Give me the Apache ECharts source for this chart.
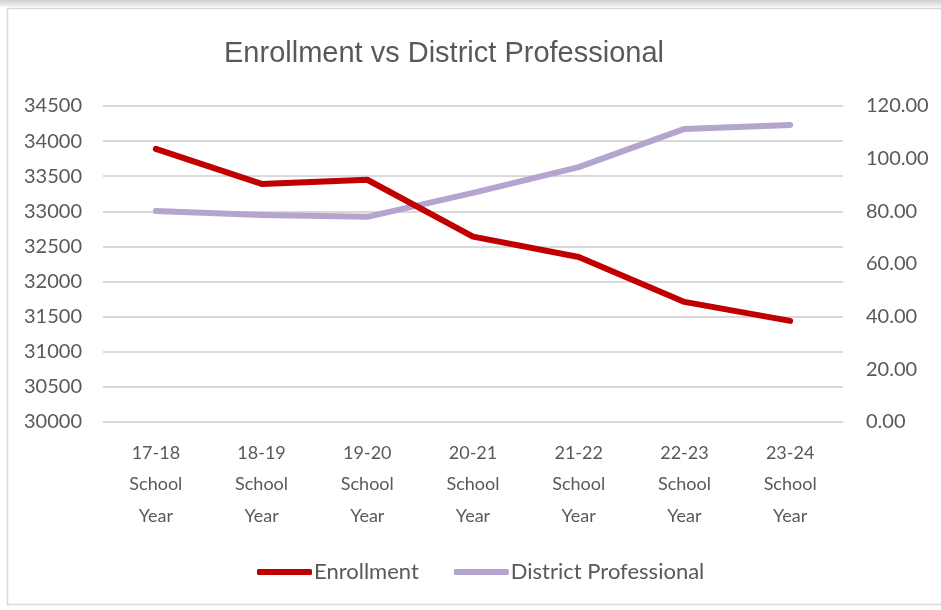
<!DOCTYPE html>
<html>
<head>
<meta charset="utf-8">
<script src="https://cdn.jsdelivr.net/npm/echarts@6/dist/echarts.min.js"></script>
<style>
  html, body { margin: 0; padding: 0; background: #fff; }
  #chart { width: 941px; height: 610px; }
</style>
</head>
<body>
<div id="chart"></div>
<script>
// School years on the category axis
const schoolYears = ['17-18', '18-19', '19-20', '20-21', '21-22', '22-23', '23-24'];
// Student enrollment (left axis)
const enrollment = [33890, 33390, 33450, 32640, 32350, 31710, 31440];
// District professional staff (right axis)
const districtProfessional = [80.1, 78.6, 77.9, 87.0, 96.8, 111.3, 112.8];

const textGray = '#595959';
const axisFont = 'Lato';

const chart = echarts.init(document.getElementById('chart'), null, { renderer: 'canvas' });

chart.setOption({
  backgroundColor: '#ffffff',
  animation: false,
  graphic: [
    {
      type: 'rect',
      shape: { x: 0, y: 0, width: 941, height: 7 },
      style: {
        fill: new echarts.graphic.LinearGradient(0, 0, 0, 1, [
          { offset: 0, color: '#d0d0d0' },
          { offset: 1, color: '#f4f4f4' }
        ])
      },
      silent: true
    },
    {
      type: 'rect',
      shape: { x: 7.5, y: 8.5, width: 940, height: 596 },
      style: { fill: 'none', stroke: '#d9d9d9', lineWidth: 1.5 },
      silent: true
    }
  ],
  title: {
    text: 'Enrollment vs District Professional',
    left: 219,
    top: 34,
    textStyle: {
      fontFamily: 'Liberation Sans',
      fontSize: 29,
      fontWeight: 'normal',
      color: textGray
    }
  },
  legend: {
    left: 252,
    top: 556,
    itemGap: 35,
    itemWidth: 55,
    itemHeight: 6,
    icon: 'roundRect',
    textStyle: { fontFamily: axisFont, fontSize: 22, color: textGray, padding: [0, 0, 0, -3] },
    data: ['Enrollment', 'District Professional']
  },
  grid: { left: 103, right: 98, top: 106, bottom: 188, containLabel: false },
  xAxis: {
    type: 'category',
    data: schoolYears,
    boundaryGap: true,
    axisLine: { show: false },
    axisTick: { show: false },
    axisLabel: {
      interval: 0,
      margin: 15,
      formatter: v => v + '\nSchool\nYear',
      fontFamily: axisFont,
      fontSize: 18,
      lineHeight: 31.5,
      color: textGray
    }
  },
  yAxis: [
    {
      type: 'value',
      min: 30000,
      max: 34500,
      interval: 500,
      position: 'left',
      axisLine: { show: false },
      axisTick: { show: false },
      axisLabel: {
        margin: 21,
        fontFamily: axisFont,
        fontSize: 20,
        color: textGray,
        formatter: v => String(v)
      },
      splitLine: { lineStyle: { color: '#d9d9d9', width: 2 } }
    },
    {
      type: 'value',
      min: 0,
      max: 120,
      interval: 20,
      position: 'right',
      axisLine: { show: false },
      axisTick: { show: false },
      splitLine: { show: false },
      axisLabel: {
        margin: 23,
        fontFamily: axisFont,
        fontSize: 20,
        color: textGray,
        formatter: v => v.toFixed(2)
      }
    }
  ],
  series: [
    {
      name: 'Enrollment',
      type: 'line',
      yAxisIndex: 0,
      data: enrollment,
      symbol: 'none',
      color: '#C00000',
      lineStyle: { width: 6, color: '#C00000', cap: 'round', join: 'round' },
      z: 3
    },
    {
      name: 'District Professional',
      type: 'line',
      yAxisIndex: 1,
      data: districtProfessional,
      symbol: 'none',
      color: '#B3A5CE',
      lineStyle: { width: 6, color: '#B3A5CE', cap: 'round', join: 'round' },
      z: 2
    }
  ]
});
</script>
</body>
</html>
